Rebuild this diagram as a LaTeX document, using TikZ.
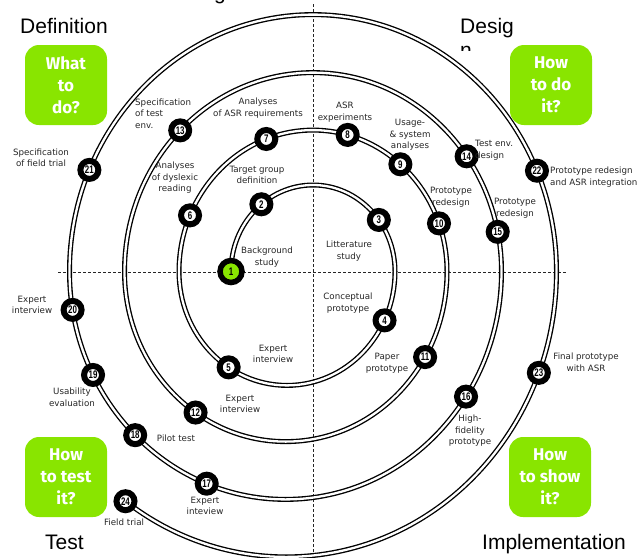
\documentclass[tikz,border=0pt]{standalone}
\usepackage{fontspec}
\setmainfont{Liberation Sans}
\newfontfamily\lblfont{DejaVu Sans}
\newfontfamily\boxfont{Fira Sans}
\newfontfamily\numfont[FakeStretch=0.72]{Liberation Sans}
\usetikzlibrary{calc}
\definecolor{lime}{RGB}{137,229,0}
\begin{document}
\begin{tikzpicture}[x=1pt,y=-1pt,
  track/.style={draw=black, line width=1.35pt, double=white, double distance=2.3pt},
  stepnode/.style={circle, draw=black, line width=6pt, fill=white, minimum size=18pt, inner sep=0pt, font=\numfont\bfseries\fontsize{11}{11}\selectfont},
  startnode/.style={stepnode, fill=lime, minimum size=22pt, line width=5.5pt},
  lbl/.style={font=\lblfont\fontsize{8.7}{11.5}\selectfont, text=black!85, align=center, inner sep=0pt},
  lbll/.style={lbl, align=left, anchor=west},
  qlbl/.style={font=\fontsize{21}{24}\selectfont, anchor=base west, inner sep=0pt},
  qbox/.style={fill=lime, rounded corners=14pt, minimum width=82pt, minimum height=80pt, text=white, align=center, font=\boxfont\bfseries\fontsize{17}{22}\selectfont, inner sep=0pt},
  axisline/.style={dash pattern=on 3pt off 2pt, line width=0.9pt, draw=black!85}
]
\useasboundingbox (0,0) rectangle (644,557);
% axes
\coordinate (vtop) at (313,4);
\coordinate (vbot) at (313,557);
\coordinate (hl) at (58,272);
\coordinate (hr) at (567,272);
\draw[axisline] (vtop) -- (vbot);
\draw[axisline] (hl) -- (hr);
% spiral track
\draw[track] (231,271.5)
  arc[start angle=180, end angle=360, x radius=82, y radius=86.5]
  arc[start angle=0, end angle=180, x radius=108, y radius=113.9]
  arc[start angle=180, end angle=360, x radius=134, y radius=141.4]
  arc[start angle=0, end angle=180, x radius=161.25, y radius=170.1]
  arc[start angle=180, end angle=360, x radius=188.5, y radius=198.9]
  arc[start angle=0, end angle=180, x radius=216, y radius=227.9]
  arc[start angle=180, end angle=360, x radius=243.5, y radius=256.9]
  arc[start angle=0, end angle=126.4, x radius=270.5, y radius=285.4];
% step nodes
\node[startnode] (n1) at (231,271.5) {1};
\node[stepnode] (n2) at ($(313,271.5)+({82*cos(231)},{86.5*sin(231)})$) {2};
\node[stepnode] (n3) at ($(313,271.5)+({82*cos(323.4)},{86.5*sin(323.4)})$) {3};
\node[stepnode] (n4) at ($(287,271.5)+({108*cos(25.4)},{113.9*sin(25.4)})$) {4};
\node[stepnode] (n5) at ($(287,271.5)+({108*cos(122.7)},{113.9*sin(122.7)})$) {5};
\node[stepnode] (n6) at ($(313,271.5)+({134*cos(203.4)},{141.4*sin(203.4)})$) {6};
\node[stepnode] (n7) at ($(313,271.5)+({134*cos(249.6)},{141.4*sin(249.6)})$) {7};
\node[stepnode] (n8) at ($(313,271.5)+({134*cos(285)},{141.4*sin(285)})$) {8};
\node[stepnode] (n9) at ($(313,271.5)+({134*cos(310.7)},{141.4*sin(310.7)})$) {9};
\node[stepnode] (n10) at ($(313,271.5)+({134*cos(340.1)},{141.4*sin(340.1)})$) {10};
\node[stepnode] (n11) at ($(285.75,271.5)+({161.25*cos(30.2)},{170.1*sin(30.2)})$) {11};
\node[stepnode] (n12) at ($(285.75,271.5)+({161.25*cos(124)},{170.1*sin(124)})$) {12};
\node[stepnode] (n13) at ($(313,271.5)+({188.5*cos(225.2)},{198.9*sin(225.2)})$) {13};
\node[stepnode] (n14) at ($(313,271.5)+({188.5*cos(324.6)},{198.9*sin(324.6)})$) {14};
\node[stepnode] (n15) at ($(313,271.5)+({188.5*cos(348.5)},{198.9*sin(348.5)})$) {15};
\node[stepnode] (n16) at ($(285.5,271.5)+({216*cos(33.3)},{227.9*sin(33.3)})$) {16};
\node[stepnode] (n17) at ($(285.5,271.5)+({216*cos(111.4)},{227.9*sin(111.4)})$) {17};
\node[stepnode] (n18) at ($(285.5,271.5)+({216*cos(134.1)},{227.9*sin(134.1)})$) {18};
\node[stepnode] (n19) at ($(285.5,271.5)+({216*cos(153)},{227.9*sin(153)})$) {19};
\node[stepnode] (n20) at ($(285.5,271.5)+({216*cos(170.3)},{227.9*sin(170.3)})$) {20};
\node[stepnode] (n21) at ($(313,271.5)+({243.5*cos(203.3)},{256.9*sin(203.3)})$) {21};
\node[stepnode] (n22) at ($(313,271.5)+({243.5*cos(336.9)},{256.9*sin(336.9)})$) {22};
\node[stepnode] (n23) at ($(286,271.5)+({270.5*cos(20.8)},{285.4*sin(20.8)})$) {23};
\node[stepnode] (n24) at ($(286,271.5)+({270.5*cos(126.4)},{285.4*sin(126.4)})$) {24};
% step labels
\node[lbl] (l1) at (267,257) {Background\\study};
\node[lbl] (l2) at (257,175) {Target group\\definition};
\node[lbl] (l3) at (349,251) {Litterature\\study};
\node[lbl] (l4) at (348,303) {Conceptual\\prototype};
\node[lbl] (l5) at (273,354) {Expert\\interview};
\node[lbl] (l6) at (175,178) {Analyses\\of dyslexic\\reading};
\node[lbl] (l7) at (258,108) {Analyses\\of ASR requirements};
\node[lbl] (l8) at (345,112) {ASR\\experiments};
\node[lbl] (l9) at (410,135) {Usage-\\\& system\\analyses};
\node[lbl] (l10) at (451,197) {Prototype\\redesign};
\node[lbl] (l11) at (387,363) {Paper\\prototype};
\node[lbl] (l12) at (240,404) {Expert\\interview};
\node[lbll] (l13) at (135,113.5) {Specification\\of test\\env.};
\node[lbll] (l14) at (475,150) {Test env.\\design};
\node[lbl] (l15) at (515,208) {Prototype\\redesign};
\node[lbl] (l16) at (470,431) {High-\\fidelity\\prototype};
\node[lbl] (l17) at (205,506) {Expert\\inteview};
\node[lbl] (l18) at (176,438) {Pilot test};
\node[lbl] (l19) at (72,397) {Usability\\evaluation};
\node[lbl] (l20) at (32,305) {Expert\\interview};
\node[lbl] (l21) at (41,158) {Specification\\of field trial};
\node[lbll] (l22) at (550,177) {Prototype redesign\\and ASR integration};
\node[lbl] (l23) at (586,362) {Final prototype\\with ASR};
\node[lbl] (l24) at (124,522) {Field trial};
% quadrant titles
\node[qlbl] (qtitle) at (214,-1) {g};
\node[qlbl] (qdef) at (20,33) {Definition};
\node[qlbl] (qdes) at (460,33) {Desig};
\begin{scope}
  \clip (455,40) rectangle (485,50);
  \node[qlbl] (qdesn) at (460,57) {n};
\end{scope}
\node[qlbl] (qtest) at (45,549) {Test};
\node[qlbl] (qimp) at (482,549) {Implementation};
% question boxes
\node[qbox] (bwhat) at (66,85) {What\\to\\do?};
\node[qbox] (bhow) at (551,85) {How\\to do\\it?};
\node[qbox] (btest) at (66,477) {How\\to test\\it?};
\node[qbox] (bshow) at (550,477) {How\\to show\\it?};
\end{tikzpicture}
\end{document}
